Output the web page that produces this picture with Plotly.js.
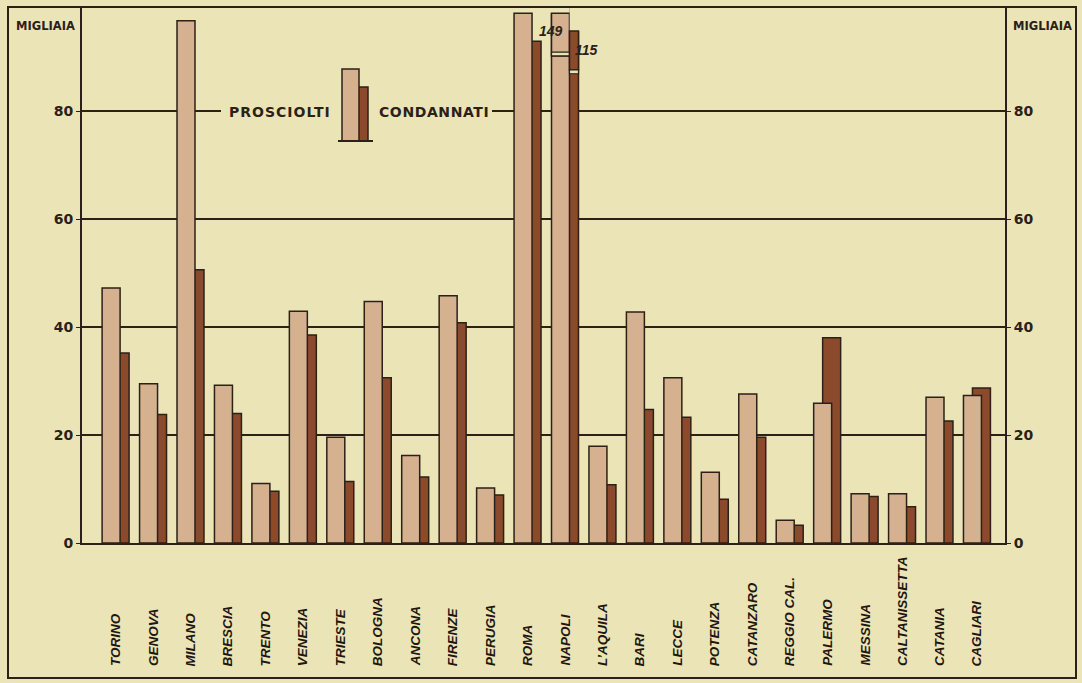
<!DOCTYPE html>
<html><head><meta charset="utf-8">
<script src="https://cdn.plot.ly/plotly-3.0.1.min.js"></script>
<style>html,body{margin:0;padding:0;background:#ebe4b7;} #chart{width:1082px;height:683px;}</style>
</head><body><div id="chart"></div>
<script>
// ---- data (thousands) ----
const categories = ["TORINO","GENOVA","MILANO","BRESCIA","TRENTO","VENEZIA","TRIESTE","BOLOGNA","ANCONA","FIRENZE","PERUGIA","ROMA","NAPOLI","L’AQUILA","BARI","LECCE","POTENZA","CATANZARO","REGGIO CAL.","PALERMO","MESSINA","CALTANISSETTA","CATANIA","CAGLIARI"];
const prosciolti = [47.2,29.5,96.7,29.2,11.0,42.9,19.6,44.7,16.2,45.8,10.2,98.1,149,17.9,42.8,30.6,13.1,27.6,4.2,25.9,9.1,9.1,27.0,27.3];
const condannati = [35.2,23.8,50.6,24.0,9.6,38.5,11.4,30.6,12.2,40.8,8.9,92.9,115,10.8,24.7,23.3,8.1,19.6,3.3,38.0,8.6,6.7,22.6,28.7];
const yTicks = [0,20,40,60,80];
const seriesNames = ["PROSCIOLTI","CONDANNATI"];
const unitLabel = "MIGLIAIA";

// ---- style ----
const BG = "#ebe4b7", INK = "#2b2118";
const LIGHT = "#d5b190", DARK = "#8c4a2d";
const W = 1082, H = 683, ML = 82, MR = 77, MT = 7, MB = 140;
const PW = W - ML - MR, PH = H - MT - MB;
const Y_MAX = 99.26;
const X_RANGE = [-0.897, 23.749];
const px = x => (x - ML) / PW;           // pixel -> paper x
const py = y => (H - MB - y) / PH;       // pixel -> paper y
const BW = 0.48, OFF_L = -0.36, OFF_D = -0.12;
// broken-bar drawing (decoration for values beyond the axis)
const BRK = {capL: 98.1, capD: 94.8, gapL: [90.2, 90.9], gapD: [86.9, 87.6]};

const tickFont = {family: '"DejaVu Sans", sans-serif', size: 14, color: INK, weight: 700};

const traces = [
  {type: "bar", name: seriesNames[1], x: categories, y: condannati, width: BW, offset: OFF_D,
   marker: {color: DARK, line: {color: INK, width: 1.5}}, hoverinfo: "skip"},
  {type: "bar", name: seriesNames[0], x: categories, y: prosciolti, width: BW, offset: OFF_L,
   marker: {color: LIGHT, line: {color: INK, width: 1.5}}, hoverinfo: "skip"},
  {type: "scatter", mode: "markers", x: categories, y: prosciolti, yaxis: "y2",
   marker: {opacity: 0}, hoverinfo: "skip", showlegend: false}
];

const sp = (t, ls) => '<span style="letter-spacing:' + ls + 'px">' + t + '</span>';

const annotations = [];
const catFont = {family: '"Liberation Sans", Arial, sans-serif', size: 13.5, color: "#1f1710", weight: 700, style: "italic"};
categories.forEach((c) => {
  annotations.push({x: c, xref: "x", y: py(668), yref: "paper", yanchor: "bottom", xanchor: "center",
    text: c, textangle: -90, showarrow: false, font: catFont});
});

const shapes = [];
const valFont = {family: '"Liberation Sans", Arial, sans-serif', size: 14, color: INK, weight: 700, style: "italic"};
categories.forEach((c, i) => {
  const lx0 = i + OFF_L, lx1 = i + OFF_L + BW, dx1 = i + OFF_D + BW;
  if (prosciolti[i] > Y_MAX) {
    shapes.push({type: "rect", xref: "x", yref: "y", x0: lx0 - 0.07, x1: lx1 + 0.005, y0: BRK.capL, y1: Y_MAX + 1,
      fillcolor: BG, line: {width: 0}, layer: "above"});
    shapes.push({type: "rect", xref: "x", yref: "y", x0: lx0, x1: lx1, y0: BRK.gapL[0], y1: BRK.capL,
      fillcolor: LIGHT, line: {color: INK, width: 1.5}, layer: "above"});
    shapes.push({type: "rect", xref: "x", yref: "y", x0: lx0, x1: lx1, y0: BRK.gapL[0], y1: BRK.gapL[1],
      fillcolor: BG, line: {color: INK, width: 1.2}, layer: "above"});
    annotations.push({x: c, xref: "x", y: 1, yref: "paper", yanchor: "top", xanchor: "center",
      xshift: -14, yshift: -14, text: String(prosciolti[i]), showarrow: false, font: valFont});
  }
  if (condannati[i] > Y_MAX) {
    shapes.push({type: "rect", xref: "x", yref: "y", x0: lx1 + 0.005, x1: dx1 + 0.08, y0: BRK.capD, y1: Y_MAX + 1,
      fillcolor: BG, line: {width: 0}, layer: "above"});
    shapes.push({type: "path", xref: "x", yref: "y",
      path: "M" + lx1 + "," + BRK.gapD[1] + " L" + lx1 + "," + BRK.capD + " L" + dx1 + "," + BRK.capD + " L" + dx1 + "," + BRK.gapD[1] + " Z",
      fillcolor: DARK, line: {color: INK, width: 1.5}, layer: "above"});
    shapes.push({type: "rect", xref: "x", yref: "y", x0: lx1, x1: dx1, y0: BRK.gapD[0], y1: BRK.gapD[1],
      fillcolor: BG, line: {color: INK, width: 1.2}, layer: "above"});
    annotations.push({x: c, xref: "x", y: 1, yref: "paper", yanchor: "top", xanchor: "left",
      xshift: 8, yshift: -33, text: String(condannati[i]), showarrow: false, font: valFont});
  }
});

const labFont = {family: '"DejaVu Sans", sans-serif', size: 14, color: INK, weight: 700};
annotations.push({x: px(280), xref: "paper", xanchor: "center", y: py(112), yref: "paper", yanchor: "middle",
  text: sp(seriesNames[0], 1), showarrow: false, font: labFont});
annotations.push({x: px(434), xref: "paper", xanchor: "center", y: py(112), yref: "paper", yanchor: "middle",
  text: sp(seriesNames[1], 0.6), showarrow: false, font: labFont});
const unitFont = {family: '"DejaVu Sans", sans-serif', size: 11.5, color: INK, weight: 700};
annotations.push({x: px(77), xref: "paper", xanchor: "right", y: py(26), yref: "paper", yanchor: "middle",
  text: unitLabel, showarrow: false, font: unitFont});
annotations.push({x: px(1011), xref: "paper", xanchor: "left", y: py(26), yref: "paper", yanchor: "middle",
  text: unitLabel, showarrow: false, font: unitFont});

shapes.push(
  // outer frame
  {type: "rect", xref: "paper", yref: "paper", x0: px(8), x1: px(1076), y0: py(678), y1: py(7),
   line: {color: INK, width: 2}, layer: "above"},
  // gap in the 80 gridline behind the legend
  {type: "rect", xref: "paper", yref: "paper", x0: px(221), x1: px(492), y0: py(120), y1: py(104),
   fillcolor: BG, line: {width: 0}, layer: "above"},
  // legend mini bars
  {type: "rect", xref: "paper", yref: "paper", x0: px(351), x1: px(368), y0: py(141), y1: py(87),
   fillcolor: DARK, line: {color: INK, width: 1.5}, layer: "above"},
  {type: "rect", xref: "paper", yref: "paper", x0: px(342), x1: px(359), y0: py(141), y1: py(69),
   fillcolor: LIGHT, line: {color: INK, width: 1.5}, layer: "above"},
  {type: "line", xref: "paper", yref: "paper", x0: px(338), x1: px(373), y0: py(141), y1: py(141),
   line: {color: INK, width: 2.2}, layer: "above"}
);

const yAxisBase = {range: [0, Y_MAX], tickvals: yTicks, ticktext: yTicks.map(String), showgrid: true,
  gridcolor: INK, gridwidth: 1.5, zeroline: false, showline: true, linecolor: INK, linewidth: 2,
  ticks: "outside", ticklen: 4, tickcolor: INK, tickfont: tickFont, fixedrange: true};

const layout = {
  width: W, height: H, margin: {l: ML, r: MR, t: MT, b: MB, pad: 0},
  paper_bgcolor: BG, plot_bgcolor: BG, showlegend: false, barmode: "overlay",
  xaxis: {type: "category", range: X_RANGE, showticklabels: false, ticks: "", showgrid: false,
    zeroline: false, showline: true, linecolor: INK, linewidth: 2, fixedrange: true},
  yaxis: Object.assign({}, yAxisBase, {side: "left"}),
  yaxis2: Object.assign({}, yAxisBase, {side: "right", overlaying: "y", showgrid: false}),
  annotations: annotations, shapes: shapes
};

Plotly.newPlot("chart", traces, layout, {staticPlot: true, displayModeBar: false});
</script></body></html>
